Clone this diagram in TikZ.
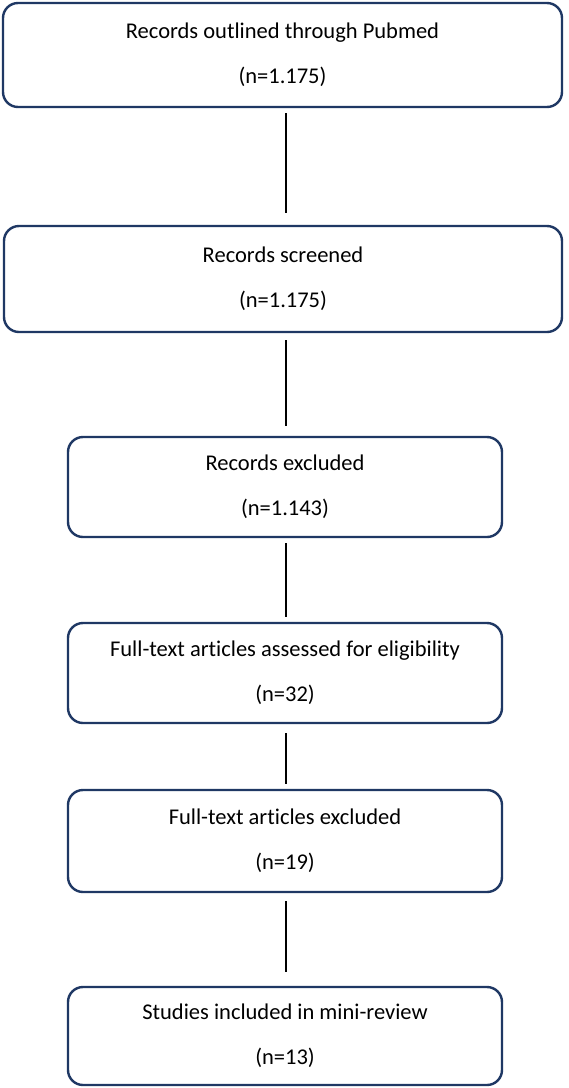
\documentclass[tikz,border=0pt]{standalone}
\usepackage{fontspec}
\setmainfont{Carlito}[Ligatures=NoCommon]
\definecolor{boxblue}{HTML}{1F3864}
\begin{document}
\begin{tikzpicture}[x=1pt,y=-1pt,
  flowbox/.style={draw=boxblue, line width=2.4pt, rounded corners=15pt, fill=white,
    inner sep=0pt, align=center, font=\fontsize{22.5}{45}\selectfont, text=black},
  conn/.style={draw=black, line width=2pt}]
\useasboundingbox[fill=white] (0,0) rectangle (569,1088);
\node[flowbox, minimum width=559pt, minimum height=104pt] (a) at (282.5,55) {Records outlined through Pubmed\\(n=1.175)};
\node[flowbox, minimum width=558pt, minimum height=106pt] (b) at (283,279) {Records screened\\(n=1.175)};
\node[flowbox, minimum width=434pt, minimum height=100pt] (c) at (285,487) {Records excluded\\(n=1.143)};
\node[flowbox, minimum width=434pt, minimum height=100pt] (d) at (285,673) {Full-text articles assessed for eligibility\\(n=32)};
\node[flowbox, minimum width=434pt, minimum height=102pt] (e) at (285,841) {Full-text articles excluded\\(n=19)};
\node[flowbox, minimum width=434pt, minimum height=98pt] (f) at (285,1036) {Studies included in mini-review\\(n=13)};
\coordinate (l) at (286,0);
\draw[conn, shorten <=5pt, shorten >=12pt] (a.south -| l) -- (b.north -| l);
\draw[conn, shorten <=7pt, shorten >=10pt] (b.south -| l) -- (c.north -| l);
\draw[conn, shorten <=5pt, shorten >=5pt] (c.south -| l) -- (d.north -| l);
\draw[conn, shorten <=9pt, shorten >=5pt] (d.south -| l) -- (e.north -| l);
\draw[conn, shorten <=8pt, shorten >=14pt] (e.south -| l) -- (f.north -| l);
\end{tikzpicture}
\end{document}
